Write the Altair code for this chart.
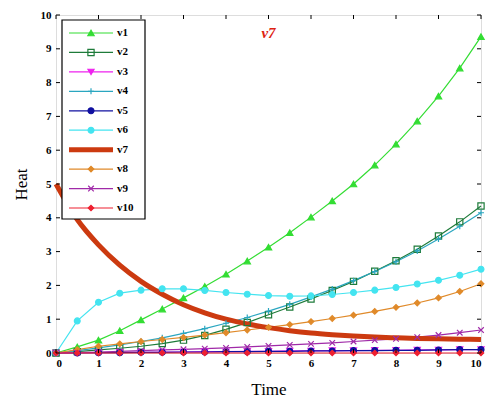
import altair as alt
import pandas as pd

names = ['v1', 'v2', 'v3', 'v4', 'v5', 'v6', 'v7', 'v8', 'v9', 'v10']
time = [0, 0.5, 1, 1.5, 2, 2.5, 3, 3.5, 4, 4.5, 5, 5.5, 6, 6.5, 7, 7.5, 8, 8.5, 9, 9.5, 10]

v1 = [0, 0.18, 0.38, 0.66, 0.98, 1.3, 1.63, 1.97, 2.33, 2.72, 3.13, 3.56, 4.02, 4.5, 5.0, 5.56, 6.18, 6.86, 7.6, 8.43, 9.36]
v2 = [0, 0.04, 0.09, 0.14, 0.2, 0.28, 0.38, 0.52, 0.7, 0.9, 1.13, 1.36, 1.6, 1.85, 2.12, 2.42, 2.73, 3.07, 3.46, 3.88, 4.35]
v3 = [0, 0.01, 0.01, 0.02, 0.02, 0.03, 0.03, 0.04, 0.04, 0.05, 0.05, 0.06, 0.06, 0.07, 0.07, 0.08, 0.08, 0.09, 0.09, 0.1, 0.1]
v4 = [0, 0.07, 0.15, 0.24, 0.34, 0.45, 0.58, 0.72, 0.88, 1.05, 1.24, 1.44, 1.66, 1.89, 2.14, 2.41, 2.7, 3.02, 3.37, 3.75, 4.15]
v5 = [0, 0.0, 0.01, 0.01, 0.02, 0.02, 0.03, 0.03, 0.04, 0.04, 0.05, 0.05, 0.06, 0.06, 0.07, 0.07, 0.08, 0.08, 0.09, 0.1, 0.1]
v6 = [0, 0.95, 1.5, 1.77, 1.86, 1.9, 1.9, 1.85, 1.79, 1.74, 1.7, 1.68, 1.69, 1.73, 1.79, 1.86, 1.94, 2.04, 2.15, 2.3, 2.48]
v7 = [5.0, 3.95, 3.2, 2.6, 2.12, 1.74, 1.43, 1.19, 1.0, 0.86, 0.75, 0.66, 0.59, 0.54, 0.5, 0.47, 0.45, 0.43, 0.42, 0.41, 0.4]
v8 = [0, 0.1, 0.2, 0.27, 0.34, 0.4, 0.46, 0.53, 0.6, 0.68, 0.76, 0.84, 0.93, 1.02, 1.12, 1.23, 1.35, 1.48, 1.63, 1.82, 2.05]
v9 = [0, 0.01, 0.03, 0.05, 0.07, 0.09, 0.11, 0.13, 0.15, 0.18, 0.21, 0.24, 0.27, 0.3, 0.34, 0.38, 0.42, 0.47, 0.53, 0.6, 0.68]
v10 = [0, 0, 0, 0, 0, 0, 0, 0, 0, 0, 0, 0, 0, 0, 0, 0, 0, 0, 0, 0, 0]

x_ticks = [0, 1, 2, 3, 4, 5, 6, 7, 8, 9, 10]
y_ticks = [0, 1, 2, 3, 4, 5, 6, 7, 8, 9, 10]

colors = ['#33dd33', '#1e7b3a', '#ee22ee', '#2aa6c0', '#1010a0', '#44e4f0', '#cc3a10', '#e08a2a', '#a02aa8', '#ee2030']
fills = ['#33dd33', 'transparent', '#ee22ee', 'transparent', '#1010a0', '#44e4f0', '#cc3a10', '#e08a2a', '#a02aa8', '#ee2030']
shapes = ['triangle-up', 'square', 'triangle-down', 'M-1,0L1,0M0,-1L0,1', 'circle', 'circle', 'circle',
          'diamond', 'M-1,-1L1,1M-1,1L1,-1', 'diamond']
sizes = [40, 30, 40, 50, 10, 40, 10, 35, 30, 55]

series = [v1, v2, v3, v4, v5, v6, v7, v8, v9, v10]
rows = []
for i, (n, vals) in enumerate(zip(names, series)):
    for t, v in zip(time, vals):
        rows.append({'time': t, 'value': v, 'series': n, 'order': i})
df = pd.DataFrame(rows)

SERIF = 'Liberation Serif'
W, H = 425, 338

color_scale = alt.Scale(domain=names, range=colors)
fill_scale = alt.Scale(domain=names, range=fills)
shape_scale = alt.Scale(domain=names, range=shapes)
size_scale = alt.Scale(domain=names, range=sizes)

x_axis = alt.Axis(values=x_ticks, title='Time', ticks=False, grid=False, domain=False,
                  labelFont=SERIF, labelFontWeight='bold', labelFontSize=11, labelColor='black',
                  labelPadding=4, labelOverlap=False, titleFont=SERIF, titleFontSize=17,
                  titleFontWeight='normal', titleColor='black', titlePadding=13)
y_axis = alt.Axis(values=y_ticks, title='Heat', ticks=False, grid=False, domain=False,
                  labelFont=SERIF, labelFontWeight='bold', labelFontSize=11, labelColor='black',
                  labelPadding=5, labelOverlap=False, titleFont=SERIF, titleFontSize=17,
                  titleFontWeight='normal', titleColor='black', titlePadding=10)
x_scale = alt.Scale(domain=[0, 10], nice=False)
y_scale = alt.Scale(domain=[0, 10], nice=False)


def X(field):
    return alt.X(field, scale=x_scale, axis=x_axis)


def Y(field):
    return alt.Y(field, scale=y_scale, axis=y_axis)


base = alt.Chart(df)

thin = base.transform_filter(alt.datum.series != 'v7').mark_line(strokeWidth=1.2).encode(
    x=X('time:Q'), y=Y('value:Q'),
    color=alt.Color('series:N', scale=color_scale, legend=None),
    detail='series:N',
    order=alt.Order('time:Q'),
)
thick = base.transform_filter(alt.datum.series == 'v7').mark_line(strokeWidth=5, interpolate='monotone').encode(
    x=X('time:Q'), y=Y('value:Q'),
    color=alt.Color('series:N', scale=color_scale, legend=None),
)
pts = base.transform_filter(alt.datum.series != 'v7').mark_point(filled=True, strokeWidth=1.2, opacity=1).encode(
    x=X('time:Q'), y=Y('value:Q'),
    fill=alt.Fill('series:N', scale=fill_scale, legend=None),
    stroke=alt.Stroke('series:N', scale=color_scale, legend=None),
    shape=alt.Shape('series:N', scale=shape_scale, legend=None),
    size=alt.Size('series:N', scale=size_scale, legend=None),
    order=alt.Order('order:Q'),
)

# inward ticks on all four sides
xt = pd.DataFrame({'time': x_ticks})
yt = pd.DataFrame({'value': y_ticks})
tick_bottom = alt.Chart(xt).mark_rule(color='black', strokeWidth=1).encode(
    x=X('time:Q'), y=alt.value(H), y2=alt.value(H - 4))
tick_top = alt.Chart(xt).mark_rule(color='black', strokeWidth=1).encode(
    x=X('time:Q'), y=alt.value(0), y2=alt.value(4))
tick_left = alt.Chart(yt).mark_rule(color='black', strokeWidth=1).encode(
    y=Y('value:Q'), x=alt.value(0), x2=alt.value(4))
tick_right = alt.Chart(yt).mark_rule(color='black', strokeWidth=1).encode(
    y=Y('value:Q'), x=alt.value(W), x2=alt.value(W - 4))

main = alt.layer(thin, thick, pts, tick_bottom, tick_top, tick_left, tick_right)

# legend
ldf = pd.DataFrame({'series': names, 'order': list(range(len(names)))})
ly = alt.Y('series:N', sort=names, scale=alt.Scale(type='point', domain=names, range=[18, 193], padding=0), axis=None)
lbase = alt.Chart(ldf)
box = alt.Chart(pd.DataFrame({'a': [0]})).mark_rect(fill='white', stroke='black', strokeWidth=1.2).encode(
    x=alt.value(6), x2=alt.value(89), y=alt.value(5), y2=alt.value(204))
lseg = lbase.mark_rule().encode(
    y=ly, x=alt.value(13), x2=alt.value(57),
    color=alt.Color('series:N', scale=color_scale, legend=None),
    strokeWidth=alt.condition(alt.datum.series == 'v7', alt.value(5), alt.value(1.2)),
)
lpts = lbase.transform_filter(alt.datum.series != 'v7').mark_point(filled=True, strokeWidth=1.2, opacity=1).encode(
    y=ly, x=alt.value(35),
    fill=alt.Fill('series:N', scale=fill_scale, legend=None),
    stroke=alt.Stroke('series:N', scale=color_scale, legend=None),
    shape=alt.Shape('series:N', scale=shape_scale, legend=None),
    size=alt.Size('series:N', scale=size_scale, legend=None),
)
ltxt = lbase.mark_text(align='left', baseline='middle', font=SERIF, fontWeight='bold', fontSize=11, color='black').encode(
    y=ly, x=alt.value(61), text='series:N')

legend = alt.layer(box, lseg, lpts, ltxt)

chart = alt.layer(main, legend).resolve_scale(
    y='independent'
).properties(
    width=W, height=H,
    title=alt.Title('v7', color='#dd2211', font=SERIF, fontSize=15, fontStyle='italic', fontWeight='bold',
                    anchor='middle', offset=-32),
    autosize=alt.AutoSizeParams(type='none'),
    padding={'left': 56, 'top': 15, 'right': 6, 'bottom': 56},
).configure_view(stroke='black', strokeWidth=1.5).configure(background='white')

chart.save('out.html', embed_options={'renderer': 'svg', 'actions': False})
